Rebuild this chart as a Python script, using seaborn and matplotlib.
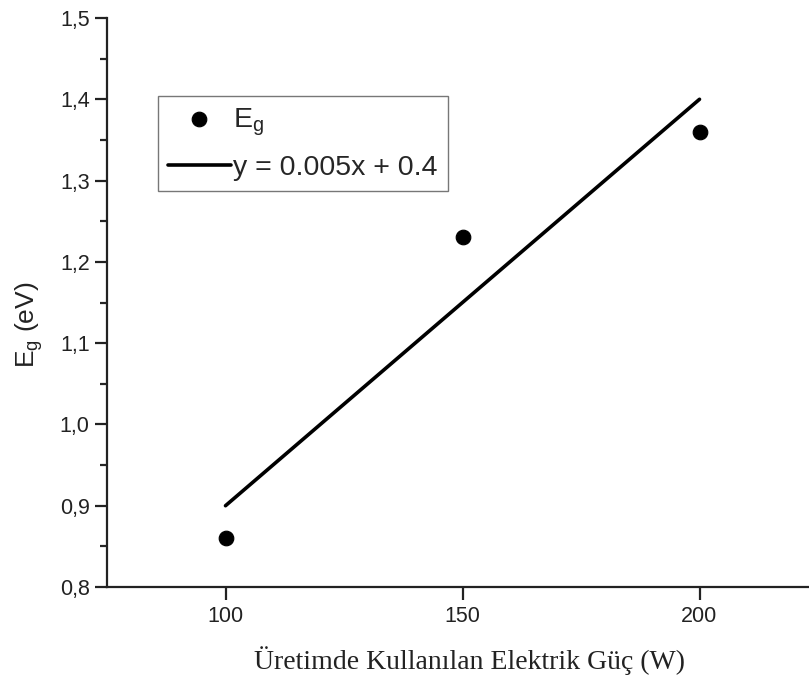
import matplotlib
matplotlib.use("Agg")
import matplotlib.pyplot as plt
import matplotlib.ticker as mticker
import seaborn as sns
import pandas as pd

power = [100, 150, 200]
eg = [0.86, 1.23, 1.36]
fit_x = [100, 200]
fit_y = [0.9, 1.4]
x_ticks = [100, 150, 200]
y_ticks = [0.8, 0.9, 1.0, 1.1, 1.2, 1.3, 1.4, 1.5]

sns.set_style("ticks")
plt.rcParams['font.family'] = ['Liberation Sans', 'DejaVu Sans']

fig = plt.figure(figsize=(8.09, 6.77), dpi=100)
ax = fig.add_axes([107/809, 1-587/677, (818-107)/809, (587-18)/677])

pts = pd.DataFrame({"x": power, "y": eg})
fit = pd.DataFrame({"x": fit_x, "y": fit_y})
sns.scatterplot(data=pts, x="x", y="y", ax=ax, color="black", s=110, edgecolor="black", label="E$_\\mathregular{g}$", zorder=3)
sns.lineplot(data=fit, x="x", y="y", ax=ax, color="black", linewidth=2.6, label="y = 0.005x + 0.4")

ax.set_xlim(75, 225)
ax.set_ylim(0.8, 1.5)
ax.set_xticks(x_ticks)
ax.set_yticks(y_ticks)
ax.yaxis.set_minor_locator(mticker.MultipleLocator(0.05))
ax.yaxis.set_major_formatter(mticker.FuncFormatter(lambda v, p: f"{v:.1f}".replace(".", ",")))
ax.tick_params(axis="both", which="major", direction="out", length=9, width=1.6, labelsize=15.5, colors="#222222", labelcolor="#222222")
ax.tick_params(axis="x", which="major", pad=5)
ax.tick_params(axis="y", which="minor", direction="out", length=5, width=1.6)
for s in ["left", "bottom"]:
    ax.spines[s].set_linewidth(1.6)
    ax.spines[s].set_color("#222222")
sns.despine(ax=ax)

ax.set_xlabel("Üretimde Kullanılan Elektrik Güç (W)", fontsize=20, family="Liberation Serif", color="#222222")
ax.xaxis.set_label_coords((470-107)/711, (587-646)/569)
ax.xaxis.label.set_verticalalignment("top")
ax.set_ylabel("E$_\\mathregular{g}$ (eV)", fontsize=19, color="#222222")
ax.yaxis.set_label_coords((45-107)/711, (587-325)/569)

leg = ax.legend(loc="upper left", bbox_to_anchor=((158-107)/711, 1-(96-18)/569), fontsize=20.5,
                frameon=True, fancybox=False, edgecolor="#555555", handlelength=2.2, handletextpad=0.1,
                borderpad=0.35, labelspacing=0.6, borderaxespad=0)
leg.get_frame().set_linewidth(1.0)

fig.savefig("out.png", dpi=100)
